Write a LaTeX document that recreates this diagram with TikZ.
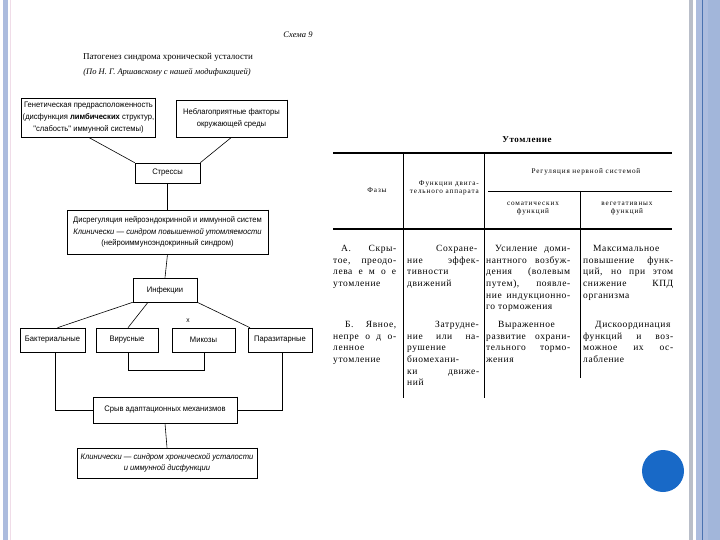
\documentclass[tikz,border=0pt]{standalone}
\usepackage{fontspec}
\setmainfont{Liberation Serif}
\newfontfamily\nsans[FakeStretch=0.95]{Liberation Sans}
\newfontfamily\tabfont[LetterSpace=6]{Liberation Serif}
\newfontfamily\hdfont[LetterSpace=12]{Liberation Serif}
\definecolor{stripblue}{HTML}{ACBCDE}
\definecolor{stripblueb}{HTML}{A2B6DA}
\definecolor{stripgray}{HTML}{B9BEC9}
\definecolor{darkline}{HTML}{4A72B0}
\definecolor{dotblue}{HTML}{1869C7}
\definecolor{pinkline}{HTML}{F0DCE8}
\newcommand\cellsetup{\hyphenpenalty=10000\relax\tolerance=10000\relax}
\begin{document}
\begin{tikzpicture}[x=1pt,y=-1pt,
  box/.style={draw, line width=0.6pt, inner sep=1pt, align=center,
    font=\nsans\fontsize{8}{11.7}\selectfont},
  conn/.style={line width=0.6pt},
  shad/.style={line width=1.3pt},
  rule/.style={line width=1.1pt},
  thin/.style={line width=0.6pt},
  cell/.style={inner sep=0pt, anchor=north west, align=justify,
    font=\tabfont\fontsize{9.5}{11.6}\selectfont\cellsetup},
  hd/.style={inner sep=0pt, font=\hdfont\fontsize{7.2}{8}\selectfont}
]
\useasboundingbox (0,0) rectangle (720,540);
\fill[white] (0,0) rectangle (720,540);
% slide frame
\fill[stripblue] (2.7,0) rectangle (8.3,540);
\draw[pinkline, line width=0.8pt] (10.5,0) -- (10.5,540);
\fill[stripgray] (688.5,0) rectangle (692.5,540);
\fill[stripblue] (696,0) rectangle (720,540);
\fill[stripblueb] (708,0) rectangle (720,540);
\draw[darkline, line width=0.9pt] (702.5,0) -- (702.5,540);
\fill[dotblue] (663,471) circle (21);

% ---------- left scheme ----------
\node[font=\itshape\fontsize{8.5}{10}\selectfont] (sch) at (298,35) {Схема 9};
\node[font=\fontsize{9}{11}\selectfont] (ttl) at (168,57) {Патогенез синдрома хронической усталости};
\node[font=\itshape\fontsize{8.5}{10}\selectfont] (sub) at (167,72) {(По Н. Г. Аршавскому с нашей модификацией)};

\node[box, minimum width=133, minimum height=39] (gen) at (88.5,117.5)
  {Генетическая предрасположенность\\(дисфункция \textbf{лимбических} структур,\\"слабость" иммунной системы)};
\node[box, minimum width=111, minimum height=37] (env) at (231.5,118.5)
  {Неблагоприятные факторы\\окружающей среды};
\node[box, minimum width=65, minimum height=20] (stress) at (167.5,173) {Стрессы};
\node[box, minimum width=201, minimum height=44] (dys) at (167.5,232)
  {Дисрегуляция нейроэндокринной и иммунной систем\\\textit{Клинически — синдром повышенной утомляемости}\\(нейроиммуноэндокринный синдром)};
\node[box, minimum width=64, minimum height=24] (inf) at (165,290) {Инфекции};
\node[box, minimum width=65, minimum height=24] (bact) at (52.5,340) {Бактериальные};
\node[box, minimum width=62, minimum height=24] (vir) at (127,340) {Вирусные};
\node[box, minimum width=63, minimum height=24] (myc) at (203.5,340) {Микозы};
\node[box, minimum width=64, minimum height=24] (par) at (280,340) {Паразитарные};
\node[box, minimum width=144, minimum height=26] (sryv) at (165,410) {Срыв адаптационных механизмов};
\node[box, minimum width=180, minimum height=30] (fin) at (167,463)
  {\textit{Клинически — синдром хронической усталости}\\\textit{и иммунной дисфункции}};
\node[font=\nsans\fontsize{7}{8}\selectfont, inner sep=0pt] (xmark) at (188,321) {х};

\foreach \n in {gen,env,stress,dys,inf,bact,vir,myc,par,sryv,fin}
  \draw[shad] (\n.north east) -- (\n.south east) -- (\n.south west);

\draw[conn] (gen.south) -- (stress.north west);
\draw[conn] (env.south) -- (stress.north east);
\draw[conn] (stress.south) -- (dys.north);
\draw[conn] (dys.south) -- (inf.north);
\draw[conn] (inf.south west) -- ([xshift=5]bact.north);
\draw[conn] ([xshift=-17]inf.south) -- ([xshift=1]vir.north);
\draw[conn] (inf.south east) -- ([xshift=-30]par.north);
\draw[conn] ([xshift=1]vir.south) -- ++(0,18) -| ([xshift=1]myc.south);
\draw[conn] ([xshift=2.5]bact.south) |- (sryv.west);
\draw[conn] ([xshift=2]par.south) |- (sryv.east);
\draw[conn] (sryv.south) -- (fin.north);

% ---------- right table ----------
\node[font=\bfseries\fontsize{9}{10}\selectfont\addfontfeatures{LetterSpace=6}] (tt) at (527,140) {Утомление};
\draw[rule] (333,153) -- (672,153);
\draw[thin] (488,191) -- (672,191);
\draw[rule] (333,229) -- (672,229);
\draw[thin] (403,153) -- (403,398);
\draw[thin] (484,153) -- (484,398);
\draw[thin] (580,191) -- (580,378);

\node[hd] (h1) at (377,190) {Фазы};
\node[hd, anchor=north east, align=right] (h2) at (479,181) {Функции двига-\\тельного аппарата};
\node[hd] (h3) at (586,172) {Регуляция нервной системой};
\node[hd, align=center] (h4) at (533,209) {соматических\\функций};
\node[hd, align=center] (h5) at (627,209) {вегетативных\\функций};

% row A
\node[cell, text width=63] (a1) at (333,243.4)
  {\strut\hspace*{8pt}А. Скры-\linebreak тое, преодо-\linebreak лева е м о е\linebreak утомление};
\node[cell, text width=72] (a2) at (407,243.4)
  {\strut\hspace*{29pt}Сохране-\linebreak ние эффек-\linebreak тивности\linebreak движений};
\node[cell, text width=84] (a3) at (486,243.4)
  {\strut\hspace*{9pt}Усиление доми-\linebreak нантного возбуж-\linebreak дения (волевым\linebreak путем), появле-\linebreak ние индукционно-\linebreak го торможения};
\node[cell, text width=90] (a4) at (583,243.4)
  {\strut\hspace*{10pt}Максимальное\linebreak повышение функ-\linebreak ций, но при этом\linebreak снижение КПД\linebreak организма};
% row B
\node[cell, text width=63] (b1) at (333,319.4)
  {\strut\hspace*{12pt}Б. Явное,\linebreak непре о д о-\linebreak ленное\linebreak утомление};
\node[cell, text width=72] (b2) at (407,319.4)
  {\strut\hspace*{28pt}Затрудне-\linebreak ние или на-\linebreak рушение\linebreak биомехани-\linebreak ки движе-\linebreak ний};
\node[cell, text width=84] (b3) at (486,319.4)
  {\strut\hspace*{12pt}Выраженное\linebreak развитие охрани-\linebreak тельного тормо-\linebreak жения};
\node[cell, text width=90] (b4) at (583,319.4)
  {\strut\hspace*{12pt}Дискоординация\linebreak функций и воз-\linebreak можное их ос-\linebreak лабление};
\end{tikzpicture}
\end{document}
